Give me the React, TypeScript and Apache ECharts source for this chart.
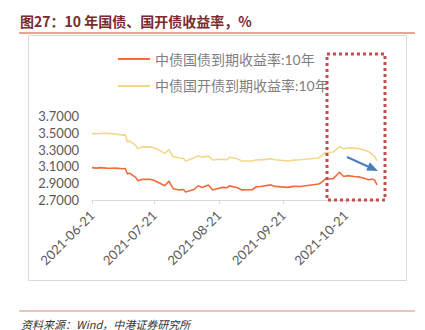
import React, { useEffect, useRef } from "react";
import * as echarts from "echarts";

const dates = [
  "2021-06-21", "2021-06-23", "2021-06-25", "2021-06-28", "2021-06-30", "2021-07-02",
  "2021-07-06", "2021-07-07", "2021-07-08", "2021-07-09", "2021-07-12", "2021-07-13",
  "2021-07-15", "2021-07-19", "2021-07-20", "2021-07-22", "2021-07-26", "2021-07-28",
  "2021-07-30", "2021-08-02", "2021-08-04", "2021-08-05", "2021-08-09", "2021-08-11",
  "2021-08-13", "2021-08-16", "2021-08-18", "2021-08-20", "2021-08-23", "2021-08-25",
  "2021-08-26", "2021-08-30", "2021-09-01", "2021-09-06", "2021-09-08", "2021-09-10",
  "2021-09-15", "2021-09-17", "2021-09-23", "2021-09-26", "2021-09-29", "2021-10-08",
  "2021-10-09", "2021-10-11", "2021-10-13", "2021-10-15", "2021-10-18", "2021-10-20",
  "2021-10-22", "2021-10-25", "2021-10-27", "2021-10-29", "2021-11-01", "2021-11-03",
  "2021-11-04", "2021-11-05",
];

const govYield = [
  3.085, 3.08, 3.085, 3.08, 3.078, 3.08,
  3.072, 3.075, 3.01, 3.02, 2.97, 2.93,
  2.945, 2.945, 2.942, 2.92, 2.87, 2.925,
  2.835, 2.82, 2.825, 2.795, 2.825, 2.87,
  2.85, 2.878, 2.82, 2.835, 2.85, 2.845,
  2.868, 2.845, 2.82, 2.822, 2.858, 2.86,
  2.88, 2.862, 2.85, 2.862, 2.86, 2.89,
  2.905, 2.945, 2.95, 2.955, 3.03, 2.98,
  2.99, 2.98, 2.975, 2.965, 2.94, 2.95,
  2.93, 2.88,
];

const cdbYield = [
  3.49, 3.488, 3.492, 3.495, 3.49, 3.485,
  3.472, 3.475, 3.39, 3.405, 3.35, 3.31,
  3.332, 3.33, 3.328, 3.31, 3.255, 3.3,
  3.215, 3.2, 3.195, 3.165, 3.2, 3.228,
  3.21, 3.222, 3.176, 3.182, 3.186, 3.18,
  3.21, 3.19, 3.164, 3.165, 3.18, 3.178,
  3.19, 3.18, 3.164, 3.175, 3.18, 3.2,
  3.222, 3.262, 3.265, 3.272, 3.335, 3.31,
  3.32, 3.318, 3.312, 3.3, 3.275, 3.238,
  3.21, 3.168,
];

const tickLabels = ["2021-06-21", "2021-07-21", "2021-08-21", "2021-09-21", "2021-10-21"];
const seriesNames = ["中债国债到期收益率:10年", "中债国开债到期收益率:10年"];

const DAY = 86400000;
const toUtc = (s: string) => {
  const [y, m, d] = s.split("-").map(Number);
  return Date.UTC(y, m - 1, d);
};
const dayIndex = (s: string) => Math.round((toUtc(s) - toUtc(dates[0])) / DAY);

const FONT = 'Lato, "Noto Sans CJK SC", sans-serif';

export default function App() {
  const ref = useRef<HTMLDivElement>(null);
  useEffect(() => {
    if (!ref.current) return;
    const chart = echarts.init(ref.current, null, { renderer: "svg" });
    const tickPos = tickLabels.map(dayIndex);
    const arrowTip = [378, 171];
    const arrowTail = [347, 157];
    const dx = arrowTip[0] - arrowTail[0];
    const dy = arrowTip[1] - arrowTail[1];
    const len = Math.sqrt(dx * dx + dy * dy);
    const ux = dx / len, uy = dy / len;
    const hl = 11, hw = 4.5;
    const bx = arrowTip[0] - ux * hl, by = arrowTip[1] - uy * hl;
    chart.setOption({
      animation: false,
      backgroundColor: "#ffffff",
      grid: { left: 92, right: 48, top: 116, bottom: 130, containLabel: false },
      legend: {
        orient: "vertical",
        left: 113,
        top: 47,
        icon: "rect",
        itemWidth: 32,
        itemHeight: 2,
        itemGap: 13,
        textStyle: { color: "#7f7f7f", fontSize: 14, fontFamily: FONT },
        data: seriesNames,
      },
      xAxis: {
        type: "value",
        min: 0,
        max: dayIndex(dates[dates.length - 1]),
        axisLine: { show: true, lineStyle: { color: "#d9d9d9", width: 1 } },
        axisTick: { show: true, customValues: tickPos, length: 4, lineStyle: { color: "#d9d9d9" } },
        axisLabel: {
          customValues: tickPos,
          rotate: 45,
          margin: 13,
          color: "#595959",
          fontSize: 13,
          fontFamily: FONT,
          formatter: (v: number) => {
            const i = tickPos.indexOf(v);
            return i >= 0 ? tickLabels[i] : "";
          },
        },
        splitLine: { show: false },
      },
      yAxis: {
        type: "value",
        min: 2.7,
        max: 3.7,
        interval: 0.2,
        axisLine: { show: false },
        axisTick: { show: false },
        splitLine: { show: false },
        axisLabel: {
          color: "#595959",
          fontSize: 13,
          fontFamily: FONT,
          margin: 13,
          formatter: (v: number) => v.toFixed(4),
        },
      },
      series: [
        {
          name: seriesNames[0],
          type: "line",
          data: dates.map((d, i) => [dayIndex(d), govYield[i]]),
          showSymbol: false,
          symbol: "none",
          lineStyle: { color: "#F26B3A", width: 1.6 },
          itemStyle: { color: "#F26B3A" },
        },
        {
          name: seriesNames[1],
          type: "line",
          data: dates.map((d, i) => [dayIndex(d), cdbYield[i]]),
          showSymbol: false,
          symbol: "none",
          lineStyle: { color: "#F3D88A", width: 1.6 },
          itemStyle: { color: "#F3D88A" },
        },
      ],
      graphic: [
        {
          type: "text",
          left: 20,
          top: 14,
          style: {
            text: "图27：10 年国债、国开债收益率，%",
            fill: "#7A2B2B",
            font: 'bold 14px "Noto Sans CJK SC", sans-serif',
          },
        },
        {
          type: "line",
          shape: { x1: 19, y1: 33, x2: 415, y2: 33 },
          style: { stroke: "#D98A6C", lineWidth: 1.5 },
        },
        {
          type: "rect",
          shape: { x: 28.5, y: 35.5, width: 378, height: 245 },
          style: { fill: "none", stroke: "#d9d9d9", lineWidth: 1 },
          z: -1,
        },
        {
          type: "line",
          shape: { x1: 19, y1: 311, x2: 415, y2: 311 },
          style: { stroke: "#D98A6C", lineWidth: 1 },
        },
        {
          type: "text",
          left: 21,
          top: 318,
          style: {
            text: "资料来源：Wind，中港证券研究所",
            fill: "#333333",
            font: 'italic 11px "Noto Sans CJK SC", sans-serif',
          },
        },
        {
          type: "rect",
          shape: { x: 327, y: 54, width: 58, height: 146 },
          style: { fill: "none", stroke: "#C0504D", lineWidth: 3, lineDash: [3, 3] },
          z: 10,
        },
        {
          type: "line",
          shape: { x1: arrowTail[0], y1: arrowTail[1], x2: bx, y2: by },
          style: { stroke: "#4A7EBB", lineWidth: 2 },
          z: 10,
        },
        {
          type: "polygon",
          shape: {
            points: [
              arrowTip,
              [bx - uy * hw, by + ux * hw],
              [bx + uy * hw, by - ux * hw],
            ],
          },
          style: { fill: "#4A7EBB" },
          z: 10,
        },
      ],
    });
    return () => chart.dispose();
  }, []);
  return (
    <div
      ref={ref}
      style={{ position: "absolute", left: 0, top: 0, width: 425, height: 330 }}
    />
  );
}
